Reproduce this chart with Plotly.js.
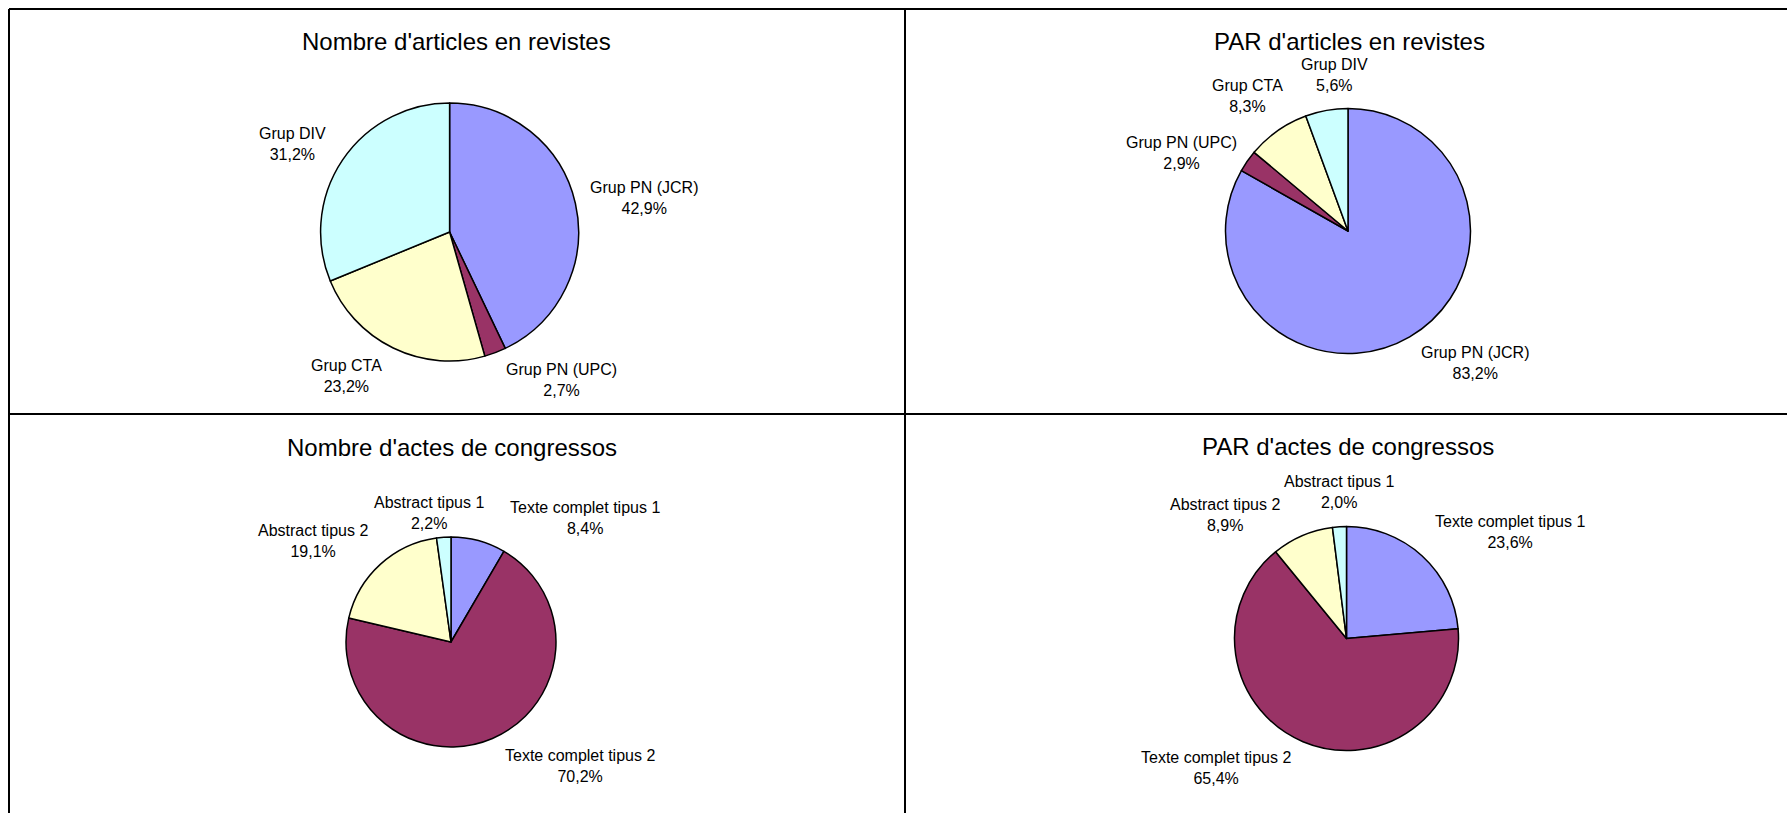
<!DOCTYPE html>
<html>
<head>
<meta charset="utf-8">
<script src="https://cdn.plot.ly/plotly-3.0.1.min.js"></script>
<style>
  html, body { margin: 0; padding: 0; background: #ffffff; }
  #chart { width: 1787px; height: 813px; }
</style>
</head>
<body>
<div id="chart"></div>
<script>
// ---- Data ----
const articleLabels = ["Grup PN (JCR)", "Grup PN (UPC)", "Grup CTA", "Grup DIV"];
const articleCountPct = [42.9, 2.7, 23.2, 31.2];
const articlePARPct = [83.2, 2.9, 8.3, 5.6];

const congressLabels = ["Texte complet tipus 1", "Texte complet tipus 2", "Abstract tipus 2", "Abstract tipus 1"];
const congressCountPct = [8.4, 70.2, 19.1, 2.2];
const congressPARPct = [23.6, 65.4, 8.9, 2.0];

const chartTitles = [
  "Nombre d'articles en revistes",
  "PAR d'articles en revistes",
  "Nombre d'actes de congressos",
  "PAR d'actes de congressos"
];

const sliceColors = ["#9999FF", "#993366", "#FFFFCC", "#CCFFFF"];

// ---- Layout (pixel geometry, kept apart from the data) ----
const W = 1787, H = 813;
const FONT = "'Liberation Sans', Arial, Helvetica, sans-serif";

// pie centre and radius for each panel [cx, cy, r]
const pieGeom = [[449.6, 232, 129], [1348, 231, 122.5], [451, 642, 105], [1346.5, 638.5, 112]];
// data-label positions (centre of each label block), per panel, per slice
const labelPos = [
  [[644, 198], [561, 380], [346, 376], [292, 144]],
  [[1475, 363], [1181, 153], [1247, 96], [1334, 75]],
  [[585, 518], [580, 766], [313, 541], [429, 513]],
  [[1510, 532], [1216, 768], [1225, 515], [1339, 492]]
];
const titlePos = [[456, 42], [1349, 42], [452, 447], [1348, 446]];

function domainFor(g) {
  const cx = g[0], cy = g[1], r = g[2];
  return {
    x: [(cx - r) / W, (cx + r) / W],
    y: [1 - (cy + r) / H, 1 - (cy - r) / H]
  };
}

function pieTrace(labels, values, g) {
  return {
    type: "pie",
    labels: labels,
    values: values,
    sort: false,
    direction: "clockwise",
    rotation: 0,
    domain: domainFor(g),
    marker: { colors: sliceColors, line: { color: "#000000", width: 1.5 } },
    textinfo: "none",
    hoverinfo: "label+value",
    showlegend: false,
    automargin: false
  };
}

const panels = [
  { labels: articleLabels, values: articleCountPct },
  { labels: articleLabels, values: articlePARPct },
  { labels: congressLabels, values: congressCountPct },
  { labels: congressLabels, values: congressPARPct }
];

const data = panels.map((p, i) => pieTrace(p.labels, p.values, pieGeom[i]));

function fmtPct(v) { return v.toFixed(1).replace(".", ",") + "%"; }

const annotations = [];
chartTitles.forEach((t, i) => {
  annotations.push({
    text: t,
    xref: "paper", yref: "paper",
    x: titlePos[i][0] / W, y: 1 - titlePos[i][1] / H,
    xanchor: "center", yanchor: "middle",
    showarrow: false,
    font: { family: FONT, size: 24, color: "#000000" }
  });
});
panels.forEach((p, i) => {
  p.labels.forEach((lab, j) => {
    annotations.push({
      text: lab + "<br>" + fmtPct(p.values[j]),
      xref: "paper", yref: "paper",
      x: labelPos[i][j][0] / W, y: 1 - labelPos[i][j][1] / H,
      xanchor: "center", yanchor: "middle",
      align: "center",
      showarrow: false,
      font: { family: FONT, size: 16, color: "#000000" }
    });
  });
});

function line(x0, y0, x1, y1) {
  return {
    type: "line", xref: "paper", yref: "paper",
    x0: x0 / W, y0: 1 - y0 / H, x1: x1 / W, y1: 1 - y1 / H,
    line: { color: "#000000", width: 2 }
  };
}
const shapes = [
  line(9, 9, W + 5, 9),
  line(9, 9, 9, H + 5),
  line(905, 9, 905, H + 5),
  line(9, 414, W + 5, 414)
];

const layout = {
  width: W, height: H,
  margin: { l: 0, r: 0, t: 0, b: 0, pad: 0 },
  paper_bgcolor: "#ffffff",
  plot_bgcolor: "#ffffff",
  separators: ",.",
  font: { family: FONT, color: "#000000" },
  annotations: annotations,
  shapes: shapes,
  showlegend: false
};

Plotly.newPlot("chart", data, layout, { displayModeBar: false, staticPlot: true });
</script>
</body>
</html>
